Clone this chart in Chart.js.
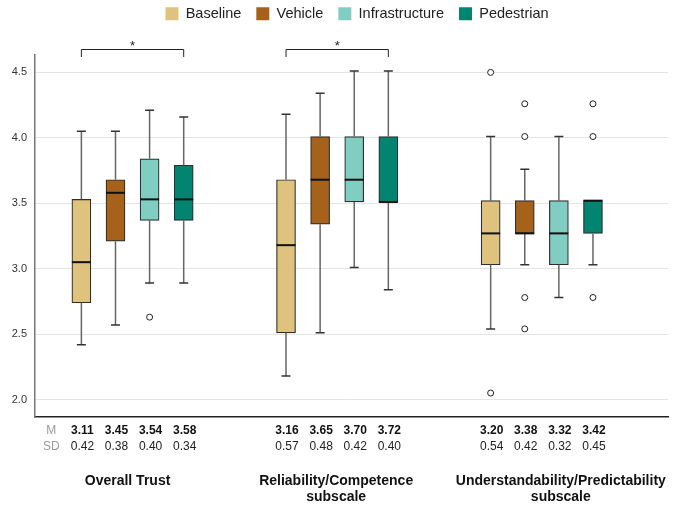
<!DOCTYPE html>
<html>
<head>
<meta charset="utf-8">
<script src="https://cdn.jsdelivr.net/npm/chart.js@4.4.1/dist/chart.umd.min.js"></script>
<style>
  html, body { margin: 0; padding: 0; background: #fff; }
</style>
</head>
<body>
<canvas id="trustChart" width="673" height="508"></canvas>
<script>
// Groups, series and colours
const groupLabels = [['Overall Trust'], ['Reliability/Competence', 'subscale'], ['Understandability/Predictability', 'subscale']];
const seriesNames = ['Baseline', 'Vehicle', 'Infrastructure', 'Pedestrian'];
const seriesColors = ['#dfc27d', '#a6611a', '#80cdc1', '#018571'];

// Box plot statistics, one row per group, one value per series
const whiskerLow = [[2.42, 2.57, 2.89, 2.89], [2.18, 2.51, 3.01, 2.84], [2.54, 3.03, 2.78, 3.03]];
const quartile1 = [[2.74, 3.21, 3.37, 3.37], [2.51, 3.34, 3.51, 3.51], [3.03, 3.27, 3.03, 3.27]];
const medians = [[3.05, 3.58, 3.53, 3.53], [3.18, 3.68, 3.68, 3.51], [3.27, 3.27, 3.27, 3.52]];
const quartile3 = [[3.53, 3.68, 3.84, 3.79], [3.68, 4.01, 4.01, 4.01], [3.52, 3.52, 3.52, 3.52]];
const whiskerHigh = [[4.05, 4.05, 4.21, 4.16], [4.18, 4.34, 4.51, 4.51], [4.01, 3.76, 4.01, 3.52]];
const outliers = [
    [[], [], [2.63], []],
    [[], [], [], []],
    [[4.50, 2.05], [4.26, 4.01, 2.78, 2.54], [], [4.26, 4.01, 2.78]]
];

// Descriptives printed under the axis
const means = [[3.11, 3.45, 3.54, 3.58], [3.16, 3.65, 3.70, 3.72], [3.20, 3.38, 3.32, 3.42]];
const sds = [[0.42, 0.38, 0.40, 0.34], [0.57, 0.48, 0.42, 0.40], [0.54, 0.42, 0.32, 0.45]];
const significant = [true, true, false];

const yTicks = [2.0, 2.5, 3.0, 3.5, 4.0, 4.5];

// each group takes 6 slots on the x axis: 4 boxes + a gap
function slot(g, s) {
    return g * 6 + s;
}

Chart.defaults.font.family = '"Liberation Sans", Arial, Helvetica, sans-serif';
Chart.defaults.color = '#222';

const boxDatasets = seriesNames.map((name, s) => ({
    type: 'bar',
    label: name,
    data: groupLabels.map((g, gi) => ({ x: slot(gi, s), y: [quartile1[gi][s], quartile3[gi][s]] })),
    backgroundColor: seriesColors[s],
    borderColor: '#2e2e2e',
    borderWidth: 1.2,
    borderSkipped: false,
    barThickness: 19,
    grouped: false
}));

const outlierPoints = [];
outliers.forEach((grp, gi) => {
    grp.forEach((vals, s) => {
        vals.forEach(v => outlierPoints.push({ x: slot(gi, s), y: v }));
    });
});

// Whiskers, medians, brackets and the table under the plot
const boxPlotPlugin = {
    id: 'boxPlotDetails',
    afterLayout(chart) {
        // lift the legend to the top edge and nudge it over the plot
        const lg = chart.legend;
        lg.top -= 24;
        lg.bottom -= 24;
        lg.left += 23;
        lg.right += 23;
    },
    afterDatasetsDraw(chart) {
        const { ctx } = chart;
        const x = chart.scales.x;
        const y = chart.scales.y;
        ctx.save();
        groupLabels.forEach((g, gi) => {
            seriesNames.forEach((name, s) => {
                const cx = x.getPixelForValue(slot(gi, s));
                const yQ1 = y.getPixelForValue(quartile1[gi][s]);
                const yQ3 = y.getPixelForValue(quartile3[gi][s]);
                const yLo = y.getPixelForValue(whiskerLow[gi][s]);
                const yHi = y.getPixelForValue(whiskerHigh[gi][s]);

                ctx.strokeStyle = '#666';
                ctx.lineWidth = 1.5;
                ctx.beginPath();
                if (whiskerHigh[gi][s] > quartile3[gi][s]) {
                    ctx.moveTo(cx, yQ3);
                    ctx.lineTo(cx, yHi);
                }
                if (whiskerLow[gi][s] < quartile1[gi][s]) {
                    ctx.moveTo(cx, yQ1);
                    ctx.lineTo(cx, yLo);
                }
                ctx.stroke();

                ctx.strokeStyle = '#333';
                ctx.beginPath();
                if (whiskerHigh[gi][s] > quartile3[gi][s]) {
                    ctx.moveTo(cx - 4.5, yHi);
                    ctx.lineTo(cx + 4.5, yHi);
                }
                if (whiskerLow[gi][s] < quartile1[gi][s]) {
                    ctx.moveTo(cx - 4.5, yLo);
                    ctx.lineTo(cx + 4.5, yLo);
                }
                ctx.stroke();

                const yMed = y.getPixelForValue(medians[gi][s]);
                ctx.strokeStyle = '#111';
                ctx.lineWidth = 2;
                ctx.beginPath();
                ctx.moveTo(cx - 9.5, yMed);
                ctx.lineTo(cx + 9.5, yMed);
                ctx.stroke();
            });
        });
        ctx.restore();
    },
    afterDraw(chart) {
        const { ctx, chartArea } = chart;
        const x = chart.scales.x;
        const titleShift = [-5, -1, 19];
        ctx.save();

        // significance brackets
        ctx.strokeStyle = '#222';
        ctx.lineWidth = 1;
        ctx.fillStyle = '#222';
        ctx.textAlign = 'center';
        ctx.textBaseline = 'alphabetic';
        ctx.font = '13px "Liberation Sans", Arial, sans-serif';
        significant.forEach((sig, gi) => {
            if (!sig) return;
            const x0 = x.getPixelForValue(slot(gi, 0));
            const x1 = x.getPixelForValue(slot(gi, 3));
            const top = chartArea.top - 5.5;
            ctx.beginPath();
            ctx.moveTo(x0, chartArea.top + 2);
            ctx.lineTo(x0, top);
            ctx.lineTo(x1, top);
            ctx.lineTo(x1, chartArea.top + 2);
            ctx.stroke();
            ctx.fillText('*', (x0 + x1) / 2, chartArea.top - 5);
        });

        // M / SD rows
        const rowM = chartArea.bottom + 14;
        const rowSD = chartArea.bottom + 30;
        ctx.textBaseline = 'middle';
        ctx.fillStyle = '#999';
        ctx.font = '12px "Liberation Sans", Arial, sans-serif';
        const labelX = x.getPixelForValue(-0.88);
        ctx.fillText('M', labelX, rowM);
        ctx.fillText('SD', labelX, rowSD);

        groupLabels.forEach((g, gi) => {
            seriesNames.forEach((name, s) => {
                const cx = x.getPixelForValue(slot(gi, s));
                ctx.fillStyle = '#111';
                ctx.font = 'bold 12px "Liberation Sans", Arial, sans-serif';
                ctx.fillText(means[gi][s].toFixed(2), cx + 1, rowM);
                ctx.fillStyle = '#222';
                ctx.font = '12px "Liberation Sans", Arial, sans-serif';
                ctx.fillText(sds[gi][s].toFixed(2), cx + 1, rowSD);
            });

            // group titles
            const gx = (x.getPixelForValue(slot(gi, 0)) + x.getPixelForValue(slot(gi, 3))) / 2 + titleShift[gi];
            ctx.fillStyle = '#111';
            ctx.font = 'bold 14px "Liberation Sans", Arial, sans-serif';
            g.forEach((line, li) => {
                ctx.fillText(line, gx, chartArea.bottom + 64 + li * 16.5);
            });
        });
        ctx.restore();
    }
};

new Chart(document.getElementById('trustChart'), {
    type: 'bar',
    data: {
        datasets: [
            ...boxDatasets,
            {
                type: 'scatter',
                label: 'Outliers',
                data: outlierPoints,
                pointStyle: 'circle',
                pointRadius: 3,
                pointBackgroundColor: '#fff',
                pointBorderColor: '#222',
                pointBorderWidth: 1
            }
        ]
    },
    options: {
        responsive: false,
        animation: false,
        layout: {
            padding: { top: 15.5, right: 5, left: 0, bottom: 0 }
        },
        plugins: {
            tooltip: { enabled: false },
            legend: {
                position: 'top',
                labels: {
                    boxWidth: 13,
                    boxHeight: 13,
                    padding: 15,
                    color: '#222',
                    font: { size: 14.5 },
                    filter: item => item.datasetIndex < seriesNames.length,
                    generateLabels: function(chart) {
                        const items = Chart.defaults.plugins.legend.labels.generateLabels(chart);
                        items.forEach(it => {
                            it.lineWidth = 0;
                            it.strokeStyle = 'rgba(0,0,0,0)';
                        });
                        return items;
                    }
                }
            }
        },
        scales: {
            x: {
                type: 'linear',
                min: -1.36,
                max: 17.2,
                offset: false,
                grid: { display: false },
                border: { display: true, color: '#222', width: 1.5 },
                ticks: { display: false },
                afterFit: function(scale) {
                    scale.height = 91;
                }
            },
            y: {
                type: 'linear',
                min: 1.867,
                max: 4.633,
                afterBuildTicks: function(scale) {
                    scale.ticks = yTicks.map(v => ({ value: v }));
                },
                grid: { color: '#e4e4e4', lineWidth: 1, drawTicks: false },
                border: { display: true, color: '#777', width: 1.5 },
                ticks: {
                    padding: 8,
                    color: '#333',
                    font: { size: 11 },
                    callback: function(value) {
                        return value.toFixed(1);
                    }
                },
                afterFit: function(scale) {
                    scale.width = 35;
                }
            }
        }
    },
    plugins: [boxPlotPlugin]
});
</script>
</body>
</html>
